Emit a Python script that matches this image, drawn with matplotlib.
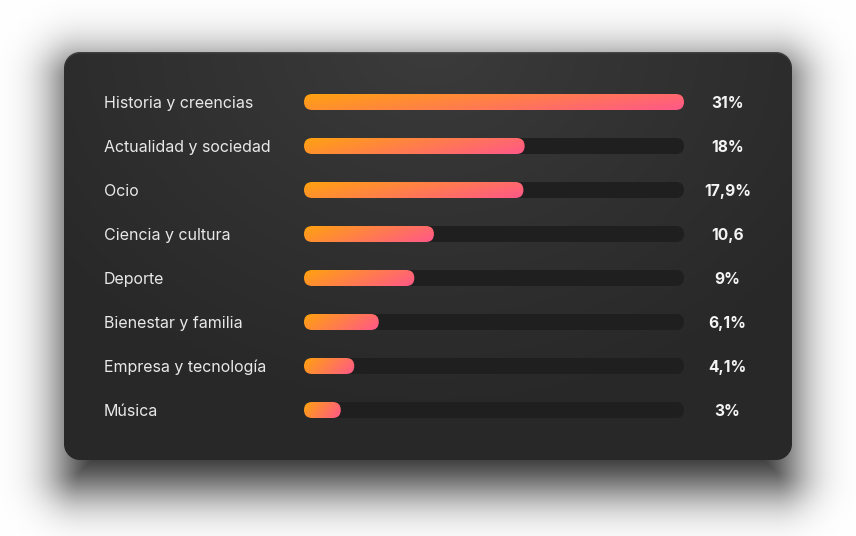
import numpy as np
import matplotlib
matplotlib.use("Agg")
import matplotlib.pyplot as plt
from matplotlib.patches import FancyBboxPatch

# ---- data ----
categories = ["Historia y creencias", "Actualidad y sociedad", "Ocio", "Ciencia y cultura",
              "Deporte", "Bienestar y familia", "Empresa y tecnología", "Música"]
values = [31, 18, 17.9, 10.6, 9, 6.1, 4.1, 3]
value_labels = ["31%", "18%", "17,9%", "10,6", "9%", "6,1%", "4,1%", "3%"]

W, H = 856, 536
DPI = 100
fig = plt.figure(figsize=(W / DPI, H / DPI), dpi=DPI)

# ---- background: white page, soft shadow, dark card with radial glow ----
def rrect_sdf(xx, yy, x0, y0, x1, y1, r):
    cx, cy = (x0 + x1) / 2, (y0 + y1) / 2
    hx, hy = (x1 - x0) / 2 - r, (y1 - y0) / 2 - r
    qx = np.abs(xx - cx) - hx
    qy = np.abs(yy - cy) - hy
    outside = np.hypot(np.maximum(qx, 0), np.maximum(qy, 0))
    inside = np.minimum(np.maximum(qx, qy), 0)
    return outside + inside - r

def erf(x):
    s = np.sign(x)
    x = np.abs(x)
    a1, a2, a3, a4, a5, p = 0.254829592, -0.284496736, 1.421413741, -1.453152027, 1.061405429, 0.3275911
    t = 1.0 / (1.0 + p * x)
    y = 1.0 - (((((a5 * t + a4) * t) + a3) * t + a2) * t + a1) * t * np.exp(-x * x)
    return s * y

yy, xx = np.mgrid[0:H, 0:W] + 0.5
cx0, cy0, cx1, cy1, cr = 64, 52, 792, 460, 16

img = np.ones((H, W, 3))
# shadow
sd = rrect_sdf(xx, yy, cx0, cy0 + 12, cx1, cy1 + 28, cr)
sigma = 26.0
sh_alpha = 0.86 * 0.5 * (1 - erf(sd / (sigma * np.sqrt(2))))
img = img * (1 - sh_alpha[..., None])

# card
d = rrect_sdf(xx, yy, cx0, cy0, cx1, cy1, cr)
card_a = np.clip(0.5 - d, 0, 1)
rd = np.hypot((xx - 430) / 1.25, (yy - 40) / 1.0)
tglow = np.clip(rd / 380.0, 0, 1) ** 0.9
light = np.array([0x3c, 0x3c, 0x3c]) / 255
dark = np.array([0x28, 0x28, 0x28]) / 255
card_col = light * (1 - tglow[..., None]) + dark * tglow[..., None]
# subtle top highlight edge
edge = np.clip(1 - np.abs(d + 0.8), 0, 1) * np.clip((cy0 + 20 - yy) / 20, 0, 1)
card_col = card_col + 0.10 * edge[..., None]
img = img * (1 - card_a[..., None]) + card_col * card_a[..., None]

bg = fig.add_axes([0, 0, 1, 1])
bg.imshow(img, extent=(0, W, H, 0), interpolation="bilinear", aspect="auto")
bg.set_xlim(0, W)
bg.set_ylim(H, 0)
bg.axis("off")

# ---- bar axes ----
n = len(categories)
row_px = 44
left_px, right_px = 304, 684
top_px = 102 - row_px / 2
ax = fig.add_axes([left_px / W, (H - (top_px + n * row_px)) / H,
                   (right_px - left_px) / W, n * row_px / H])
ax.set_facecolor("none")
xmax = max(values)
ax.set_xlim(0, xmax)
ax.set_ylim(n - 0.5, -0.5)
ax.axis("off")

bar_px = 16
px_per_x = (right_px - left_px) / xmax
h = bar_px / row_px
r = (bar_px / 2) / px_per_x
aspect = (bar_px / 2 / row_px) / r

c0 = np.array([255, 162, 16]) / 255
c1 = np.array([255, 88, 136]) / 255
gx = np.linspace(0, 1, 200)
gy = np.linspace(0, 1, 20)
GX, GY = np.meshgrid(gx, gy)
T = np.clip(0.78 * GX + 0.22 * GY, 0, 1)
grad = c0 * (1 - T[..., None]) + c1 * T[..., None]

for i, (cat, v, lab) in enumerate(zip(categories, values, value_labels)):
    track = FancyBboxPatch((0, i - h / 2), xmax, h,
                           boxstyle=f"round,pad=0,rounding_size={r}",
                           mutation_aspect=aspect, facecolor="#1f1f1f",
                           edgecolor="none", zorder=1)
    ax.add_patch(track)
    bar = FancyBboxPatch((0, i - h / 2), v, h,
                         boxstyle=f"round,pad=0,rounding_size={r}",
                         mutation_aspect=aspect, facecolor="none",
                         edgecolor="none", zorder=2)
    ax.add_patch(bar)
    im = ax.imshow(grad, extent=(0, v, i + h / 2, i - h / 2), aspect="auto",
                   interpolation="bilinear", zorder=2)
    im.set_clip_path(bar)
    ax.annotate(cat, xy=(0, i), xycoords="data", xytext=(-200, 0),
                textcoords="offset pixels", ha="left", va="center_baseline",
                fontsize=11.5, color="#e8e8e8", family=["Inter", "DejaVu Sans"])
    ax.annotate(lab, xy=(xmax, i), xycoords="data", xytext=(43.5, 0),
                textcoords="offset pixels", ha="center", va="center_baseline",
                fontsize=11.2, color="#f4f4f4", fontweight="bold",
                family=["Inter", "DejaVu Sans"])

fig.savefig("out.png", dpi=DPI)
